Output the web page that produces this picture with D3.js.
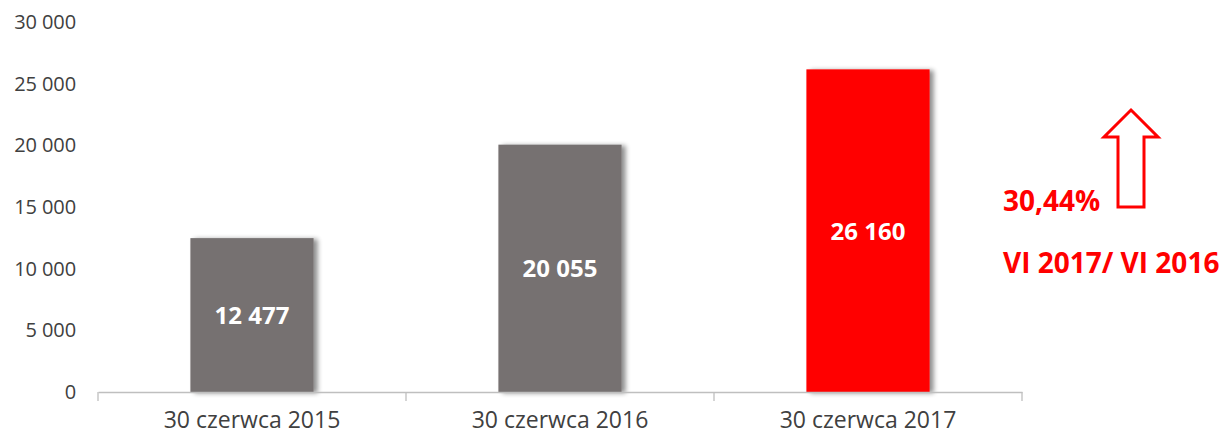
<!DOCTYPE html>
<html><head><meta charset="utf-8">
<script src="https://cdn.jsdelivr.net/npm/d3@7"></script>
<style>body{margin:0;background:#fff}svg{display:block}</style>
</head><body>
<svg id="c" width="1225" height="435"></svg>
<script>
const categories = ["30 czerwca 2015", "30 czerwca 2016", "30 czerwca 2017"];
const values = [12477, 20055, 26160];
const barColors = ["#767171", "#767171", "#FF0000"];
const yTicks = [0, 5000, 10000, 15000, 20000, 25000, 30000];
const changeLabel = "30,44%";
const changePeriod = "VI 2017/ VI 2016";

const font = "'Open Sans', sans-serif";
const svg = d3.select("#c");
const x = d3.scaleBand().domain(categories).range([98, 1022]).paddingInner(0.6).paddingOuter(0.3);
const y = d3.scaleLinear().domain([0, 30000]).range([392, 22]);
const fmtNb = v => d3.format(",")(v).replace(/,/g, " ");

const defs = svg.append("defs");
const f = defs.append("filter").attr("id", "sh").attr("x", "-10%").attr("y", "-10%").attr("width", "130%").attr("height", "120%");
f.append("feGaussianBlur").attr("in", "SourceAlpha").attr("stdDeviation", 2.5);
f.append("feOffset").attr("dx", 4).attr("dy", 1).attr("result", "b");
f.append("feComponentTransfer").append("feFuncA").attr("type", "linear").attr("slope", 0.45);
const m = f.append("feMerge"); m.append("feMergeNode"); m.append("feMergeNode").attr("in", "SourceGraphic");

// y axis labels
const yAxis = svg.append("g").attr("transform", "translate(76,0)")
  .call(d3.axisLeft(y).tickValues(yTicks).tickSize(0).tickPadding(0).tickFormat(fmtNb));
yAxis.select(".domain").remove();
yAxis.selectAll("text").attr("font-family", font).attr("font-size", 20).attr("fill", "#404040")
  .attr("letter-spacing", -0.1);

// bars
svg.selectAll("rect.bar").data(values).join("rect").attr("class", "bar")
  .attr("x", (d, i) => x(categories[i])).attr("width", x.bandwidth())
  .attr("y", d => y(d)).attr("height", d => y(0) - y(d))
  .attr("fill", (d, i) => barColors[i]).attr("filter", "url(#sh)");

// x axis
const xAxis = svg.append("g").attr("transform", "translate(0,392)")
  .call(d3.axisBottom(x).tickSize(0).tickPadding(22));
xAxis.select(".domain").attr("stroke", "#bfbfbf").attr("stroke-width", 1.3);
xAxis.selectAll("text").attr("font-family", font).attr("font-size", 23).attr("fill", "#404040").attr("dy", "0.6em");
const bounds = d3.range(categories.length + 1).map(i => 98 + i * (1022 - 98) / categories.length);
xAxis.selectAll("line.b").data(bounds).join("line").attr("class", "b")
  .attr("x1", d => d).attr("x2", d => d).attr("y1", 0).attr("y2", 9)
  .attr("stroke", "#bfbfbf").attr("stroke-width", 1.3);

// value labels
svg.selectAll("text.val").data(values).join("text").attr("class", "val")
  .attr("x", (d, i) => x(categories[i]) + x.bandwidth() / 2)
  .attr("y", d => (y(d) + y(0)) / 2 + 9)
  .attr("text-anchor", "middle").attr("font-family", font).attr("font-weight", "bold")
  .attr("font-size", 24).attr("fill", "#fff").text(d => fmtNb(d));

// annotation
svg.append("text").attr("x", 1003).attr("y", 211).attr("font-family", font).attr("font-weight", "bold")
  .attr("font-size", 28).attr("fill", "#FF0000").text(changeLabel);
svg.append("text").attr("x", 1003).attr("y", 273).attr("font-family", font).attr("font-weight", "bold")
  .attr("font-size", 28).attr("fill", "#FF0000").text(changePeriod);
const arrow = [[1131, 110], [1158, 137], [1144, 137], [1144, 207], [1118, 207], [1118, 137], [1104, 137]];
svg.append("path").attr("d", d3.line()(arrow) + "Z").attr("fill", "none").attr("stroke", "#FF0000").attr("stroke-width", 3);
</script>
</body></html>
